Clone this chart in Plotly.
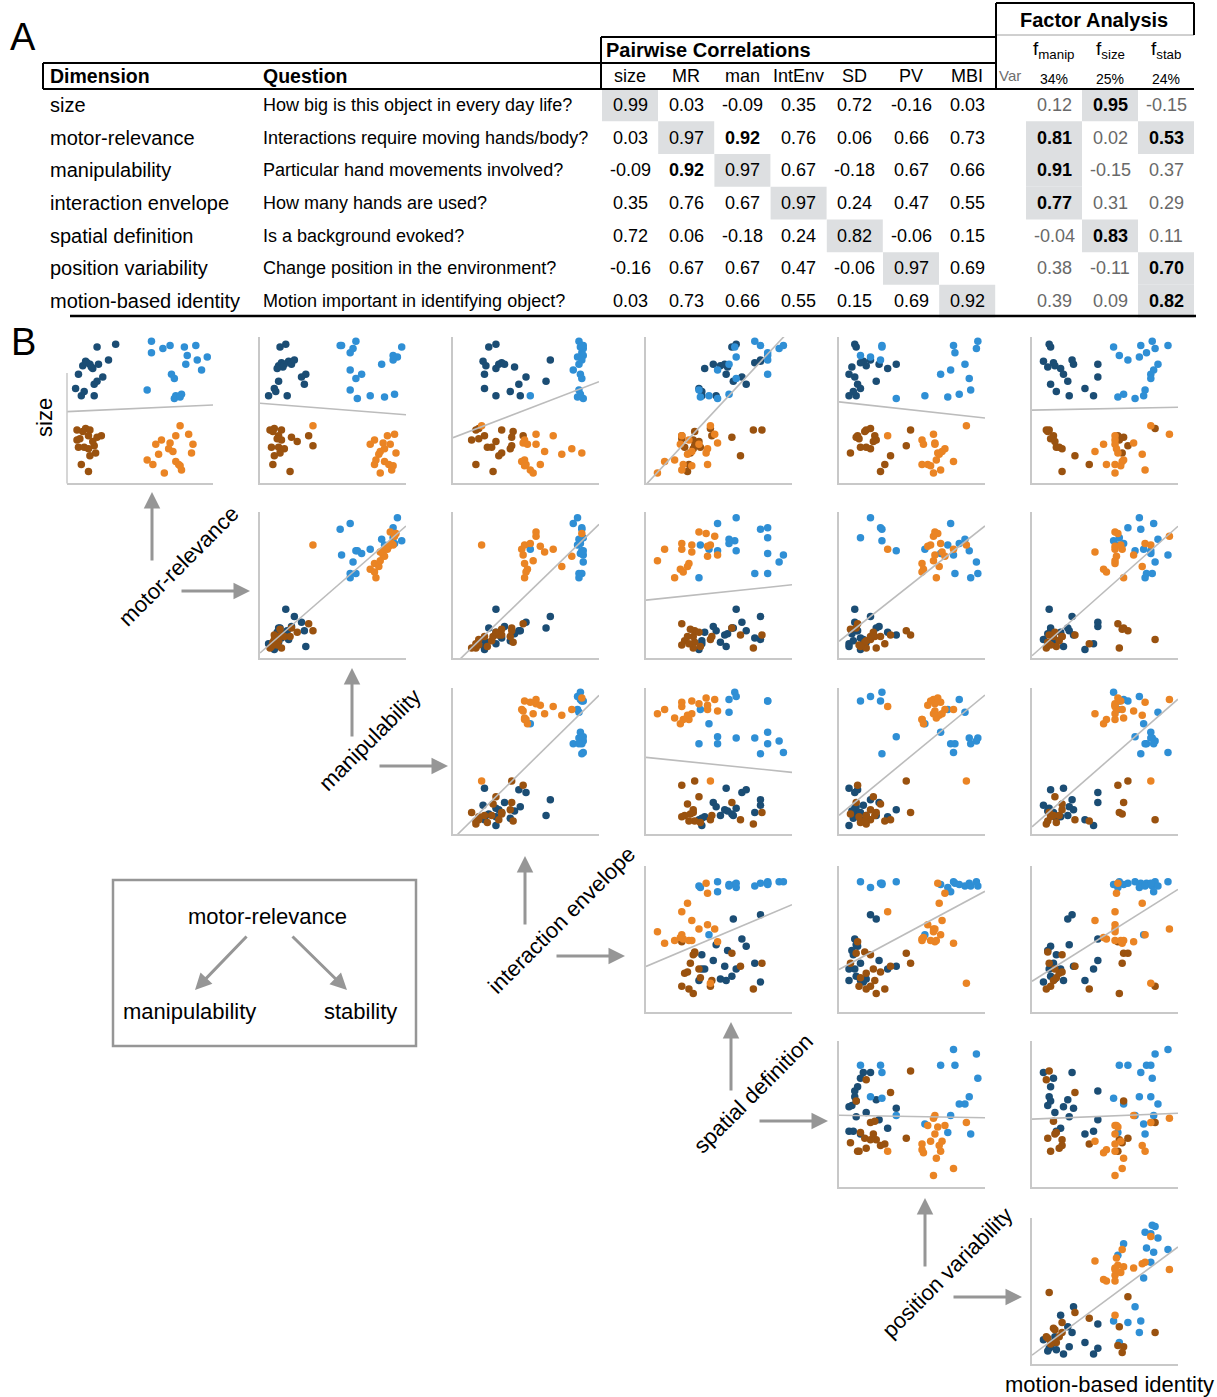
import numpy as np
import plotly.graph_objects as go

W, H = 1217, 1397

# ---------------- Panel A data ----------------
dim_short = ["size", "MR", "man", "IntEnv", "SD", "PV", "MBI"]
dim_names = ["size", "motor-relevance", "manipulability", "interaction envelope",
             "spatial definition", "position variability", "motion-based identity"]
questions = ["How big is this object in every day life?",
             "Interactions require moving hands/body?",
             "Particular hand movements involved?",
             "How many hands are used?",
             "Is a background evoked?",
             "Change position in the environment?",
             "Motion important in identifying object?"]
corr_size = [0.99, 0.03, -0.09, 0.35, 0.72, -0.16, 0.03]
corr_mr = [0.03, 0.97, 0.92, 0.76, 0.06, 0.66, 0.73]
corr_man = [-0.09, 0.92, 0.97, 0.67, -0.18, 0.67, 0.66]
corr_ie = [0.35, 0.76, 0.67, 0.97, 0.24, 0.47, 0.55]
corr_sd = [0.72, 0.06, -0.18, 0.24, 0.82, -0.06, 0.15]
corr_pv = [-0.16, 0.67, 0.67, 0.47, -0.06, 0.97, 0.69]
corr_mbi = [0.03, 0.73, 0.66, 0.55, 0.15, 0.69, 0.92]
f_manip = [0.12, 0.81, 0.91, 0.77, -0.04, 0.38, 0.39]
f_size = [0.95, 0.02, -0.15, 0.31, 0.83, -0.11, 0.09]
f_stab = [-0.15, 0.53, 0.37, 0.29, 0.11, 0.70, 0.82]
factor_labels = ["manip", "size", "stab"]
factor_var = ["34%", "25%", "24%"]

# ---------------- Panel B data (normalised ratings) ----------------
# dark blue: big objects, low motor-relevance
size_db = [0.93, 0.95, 0.83, 0.80, 0.82, 0.81, 0.78, 0.81, 0.84, 0.74, 0.72, 0.69, 0.67, 0.64, 0.59, 0.59, 0.79, 0.62]
mr_db = [0.19, 0.32, 0.11, 0.09, 0.12, 0.14, 0.16, 0.20, 0.27, 0.06, 0.23, 0.19, 0.17, 0.04, 0.08, 0.17, 0.15, 0.10]
man_db = [0.12, 0.16, 0.18, 0.11, 0.13, 0.15, 0.10, 0.20, 0.22, 0.30, 0.27, 0.11, 0.29, 0.08, 0.04, 0.17, 0.14, 0.09]
ie_db = [0.23, 0.28, 0.19, 0.21, 0.32, 0.30, 0.28, 0.34, 0.66, 0.20, 0.49, 0.63, 0.44, 0.20, 0.28, 0.45, 0.41, 0.38]
sd_db = [0.58, 0.61, 0.78, 0.50, 0.74, 0.53, 0.39, 0.45, 0.78, 0.54, 0.65, 0.59, 0.68, 0.35, 0.37, 0.47, 0.55, 0.37]
pv_db = [0.10, 0.09, 0.15, 0.17, 0.13, 0.38, 0.32, 0.26, 0.20, 0.05, 0.09, 0.24, 0.11, 0.13, 0.05, 0.10, 0.07, 0.08]
mbi_db = [0.11, 0.10, 0.06, 0.14, 0.13, 0.27, 0.18, 0.44, 0.26, 0.20, 0.44, 0.23, 0.11, 0.35, 0.41, 0.24, 0.09, 0.15]
# light blue: big objects, high motor-relevance
size_lb = [0.97, 0.89, 0.92, 0.94, 0.93, 0.94, 0.87, 0.86, 0.84, 0.81, 0.77, 0.74, 0.71, 0.63, 0.59, 0.57, 0.58, 0.60]
mr_lb = [0.57, 0.57, 0.65, 0.70, 0.80, 0.88, 0.82, 0.96, 0.89, 0.81, 0.92, 0.71, 0.73, 0.54, 0.74, 0.73, 0.77, 0.78]
man_lb = [0.65, 0.61, 0.63, 0.55, 0.97, 0.54, 0.91, 0.94, 0.91, 0.83, 0.61, 0.69, 0.65, 0.61, 0.75, 0.66, 0.85, 0.92]
ie_lb = [0.86, 0.88, 0.89, 0.89, 0.87, 0.88, 0.89, 0.85, 0.88, 0.86, 0.82, 0.87, 0.88, 0.86, 0.52, 0.89, 0.85, 0.87]
sd_lb = [0.74, 0.83, 0.91, 0.94, 0.60, 0.78, 0.83, 0.61, 0.83, 0.56, 0.48, 0.83, 0.61, 0.35, 0.42, 0.48, 0.36, 0.56]
pv_lb = [0.95, 0.79, 0.94, 0.78, 0.28, 0.28, 0.13, 0.20, 0.27, 0.86, 0.76, 0.69, 0.89, 0.90, 0.58, 0.38, 0.74, 0.82]
mbi_lb = [0.82, 0.78, 0.84, 0.93, 0.55, 0.74, 0.59, 0.73, 0.65, 0.86, 0.83, 0.81, 0.81, 0.77, 0.76, 0.70, 0.58, 0.62]
# brown: small objects, low motor-relevance
size_br = [0.35, 0.36, 0.35, 0.34, 0.31, 0.28, 0.31, 0.30, 0.23, 0.23, 0.22, 0.24, 0.19, 0.17, 0.11, 0.06, 0.29, 0.27]
mr_br = [0.05, 0.11, 0.14, 0.09, 0.13, 0.05, 0.22, 0.19, 0.06, 0.10, 0.13, 0.17, 0.18, 0.14, 0.08, 0.13, 0.07, 0.16]
man_br = [0.05, 0.08, 0.13, 0.07, 0.11, 0.13, 0.32, 0.20, 0.06, 0.11, 0.15, 0.35, 0.12, 0.08, 0.07, 0.19, 0.10, 0.24]
ie_br = [0.14, 0.16, 0.32, 0.40, 0.20, 0.11, 0.47, 0.39, 0.22, 0.25, 0.38, 0.39, 0.32, 0.30, 0.14, 0.26, 0.16, 0.28]
sd_br = [0.73, 0.43, 0.79, 0.32, 0.44, 0.31, 0.23, 0.58, 0.36, 0.25, 0.31, 0.32, 0.29, 0.64, 0.28, 0.27, 0.23, 0.35]
pv_br = [0.17, 0.20, 0.48, 0.16, 0.23, 0.24, 0.11, 0.10, 0.13, 0.17, 0.20, 0.45, 0.06, 0.34, 0.30, 0.27, 0.12, 0.22]
mbi_br = [0.08, 0.84, 0.10, 0.09, 0.13, 0.59, 0.58, 0.62, 0.15, 0.17, 0.19, 0.65, 0.61, 0.28, 0.38, 0.19, 0.11, 0.14]
# orange: small objects, high motor-relevance
size_or = [0.38, 0.32, 0.31, 0.28, 0.26, 0.25, 0.25, 0.19, 0.22, 0.18, 0.14, 0.11, 0.13, 0.11, 0.10, 0.07, 0.05, 0.20]
mr_or = [0.77, 0.83, 0.74, 0.64, 0.70, 0.86, 0.60, 0.85, 0.69, 0.62, 0.54, 0.58, 0.74, 0.76, 0.77, 0.78, 0.66, 0.72]
man_or = [0.35, 0.92, 0.87, 0.78, 0.84, 0.89, 0.75, 0.93, 0.85, 0.81, 0.79, 0.78, 0.85, 0.88, 0.91, 0.90, 0.82, 0.82]
ie_or = [0.18, 0.56, 0.68, 0.48, 0.47, 0.56, 0.50, 0.88, 0.81, 0.74, 0.48, 0.49, 0.46, 0.59, 0.48, 0.52, 0.54, 0.62]
sd_or = [0.43, 0.46, 0.23, 0.28, 0.48, 0.35, 0.22, 0.40, 0.41, 0.27, 0.18, 0.24, 0.11, 0.41, 0.30, 0.23, 0.06, 0.30]
pv_or = [0.87, 0.64, 0.32, 0.56, 0.65, 0.65, 0.57, 0.67, 0.72, 0.68, 0.66, 0.56, 0.78, 0.60, 0.62, 0.69, 0.64, 0.70]
mbi_or = [0.81, 0.94, 0.56, 0.56, 0.69, 0.56, 0.48, 0.58, 0.57, 0.75, 0.62, 0.50, 0.61, 0.56, 0.60, 0.77, 0.56, 0.42]

axis_labels = ["size", "motor-relevance", "manipulability", "interaction envelope",
               "spatial definition", "position variability", "motion-based identity"]

# ---------------- styling ----------------
FONT = "Liberation Sans, Arial, Helvetica, sans-serif"
C_DB, C_LB, C_BR, C_OR = "#1b4d74", "#2f8fd5", "#9a520f", "#ea8424"
AXC = "rgb(200,200,200)"
REGC = "rgb(188,188,188)"
ARC = "rgb(150,150,150)"
CELL = "rgb(221,223,225)"


def px(x):
    return x / W


def py(y):
    return 1 - y / H


fig = go.Figure()
ann = []
shapes = []


def text(x, y, s, size, color="black", xanchor="center", angle=0):
    ann.append(dict(x=px(x), y=py(y), xref="paper", yref="paper", text=s, showarrow=False,
                    textangle=angle, font=dict(size=size, family=FONT, color=color),
                    xanchor=xanchor, yanchor="middle"))


def arrow(x, y, ax, ay):
    ann.append(dict(x=px(x), y=py(y), xref="paper", yref="paper", text="", showarrow=True,
                    ax=ax, ay=ay, arrowhead=2, arrowsize=1.1, arrowwidth=3, arrowcolor=ARC))


def hline(x0, x1, y, w=1.5, c="black"):
    shapes.append(dict(type="line", xref="paper", yref="paper", x0=px(x0), x1=px(x1), y0=py(y), y1=py(y),
                       line=dict(color=c, width=w)))


def vline(x, y0, y1, w=1.5, c="black"):
    shapes.append(dict(type="line", xref="paper", yref="paper", x0=px(x), x1=px(x), y0=py(y0), y1=py(y1),
                       line=dict(color=c, width=w)))


# ================= Panel A: table =================
corr_rows = [corr_size, corr_mr, corr_man, corr_ie, corr_sd, corr_pv, corr_mbi]
fac_cols = [f_manip, f_size, f_stab]
pw_x = [630 + 56.2 * i for i in range(7)]
fa_x = [1054 + 56 * i for i in range(3)]
row_y = [105 + 32.7 * i for i in range(7)]
CW, RH = 56, 32.7

text(23, 37, "A", 38)
text(23, 342, "B", 38)

text(1094, 20, "<b>Factor Analysis</b>", 20)
text(604, 50, "<b>Pairwise Correlations</b>", 20, xanchor="left")
text(48, 76, "<b>Dimension</b>", 19.5, xanchor="left")
text(261, 76, "<b>Question</b>", 19.5, xanchor="left")
for i, s in enumerate(dim_short):
    text(pw_x[i], 76, s, 18)
text(1010, 76, "Var", 15, color="rgb(110,110,110)")
for j in range(3):
    text(fa_x[j], 50, "f<sub>%s</sub>" % factor_labels[j], 19)
    text(fa_x[j], 79, factor_var[j], 14)

for i in range(7):
    text(48, row_y[i], dim_names[i], 20, xanchor="left")
    text(261, row_y[i], questions[i], 18, xanchor="left")
    for j in range(7):
        v = corr_rows[i][j]
        if i == j:
            shapes.append(dict(type="rect", xref="paper", yref="paper",
                               x0=px(pw_x[j] - CW / 2), x1=px(pw_x[j] + CW / 2),
                               y0=py(row_y[i] - RH / 2), y1=py(row_y[i] + RH / 2),
                               fillcolor=CELL, line=dict(width=0), layer="below"))
        txt = "%.2f" % v
        if i != j and abs(v) >= 0.9:
            txt = "<b>%s</b>" % txt
        text(pw_x[j], row_y[i], txt, 18)
    for j in range(3):
        v = fac_cols[j][i]
        strong = v >= 0.5
        if strong:
            shapes.append(dict(type="rect", xref="paper", yref="paper",
                               x0=px(fa_x[j] - CW / 2), x1=px(fa_x[j] + CW / 2),
                               y0=py(row_y[i] - RH / 2), y1=py(row_y[i] + RH / 2),
                               fillcolor=CELL, line=dict(width=0), layer="below"))
        txt = "%.2f" % v
        text(fa_x[j], row_y[i], ("<b>%s</b>" % txt) if strong else txt, 18,
             color="black" if strong else "rgb(105,105,105)")

hline(996, 1194, 3, 2)
hline(996, 1194, 35, 1, "rgb(160,160,160)")
vline(1194, 3, 35, 2)
vline(996, 3, 89, 2)
hline(601, 996, 37, 2)
vline(601, 37, 89, 2)
hline(43, 996, 63, 2)
vline(43, 63, 89, 2)
hline(43, 1194, 89, 2)
hline(70, 1196, 316, 2.5)

# ================= Panel B: scatter matrix =================
groups = [
    (C_DB, [size_db, mr_db, man_db, ie_db, sd_db, pv_db, mbi_db]),
    (C_LB, [size_lb, mr_lb, man_lb, ie_lb, sd_lb, pv_lb, mbi_lb]),
    (C_BR, [size_br, mr_br, man_br, ie_br, sd_br, pv_br, mbi_br]),
    (C_OR, [size_or, mr_or, man_or, ie_or, sd_or, pv_or, mbi_or]),
]
col_left = [67, 260, 453, 646, 839, 1032]
row_top = [337, 512, 688, 866, 1041, 1218]
SZ = 146

k = 0
for r in range(6):
    for c in range(r, 6):
        k += 1
        xa = "x" if k == 1 else "x%d" % k
        ya = "y" if k == 1 else "y%d" % k
        xd, yd = c + 1, r
        allx, ally = [], []
        for color, vals in groups:
            fig.add_trace(go.Scatter(x=vals[xd], y=vals[yd], mode="markers",
                                     marker=dict(color=color, size=7.5, line=dict(width=0)),
                                     xaxis=xa, yaxis=ya, showlegend=False, cliponaxis=False,
                                     hoverinfo="skip"))
            allx += vals[xd]
            ally += vals[yd]
        b, a = np.polyfit(allx, ally, 1)
        xs = [-0.02, 1.0]
        fig.add_trace(go.Scatter(x=xs, y=[a + b * x for x in xs], mode="lines",
                                 line=dict(color=REGC, width=1.6), xaxis=xa, yaxis=ya,
                                 showlegend=False, hoverinfo="skip"))
        L, T = col_left[c], row_top[r]
        common = dict(linecolor=AXC, linewidth=1.5, showgrid=False, zeroline=False,
                      showticklabels=False, ticks="", fixedrange=True, range=[-0.02, 1.0])
        fig.layout["xaxis" if k == 1 else "xaxis%d" % k] = dict(domain=[px(L), px(L + SZ)], anchor=ya,
                                                               showline=True, **common)
        fig.layout["yaxis" if k == 1 else "yaxis%d" % k] = dict(domain=[py(T + SZ), py(T)], anchor=xa,
                                                               showline=(k != 1), **common)
# the first panel's left axis line is shorter in the original figure
vline(67, 373, 483.5, 1.5, AXC)

# axis labels and arrows
text(44, 418, axis_labels[0], 22, angle=-90)
text(1109, 1384, axis_labels[6], 22)
diag_centers = [(178, 566), (369, 740), (561, 920), (753, 1093), (947, 1272)]
up_x = [152, 352, 525, 731, 925]
up_head = [492, 668, 856, 1022, 1198]
right_y = [591, 766, 956, 1121, 1297]
right_head = [250, 448, 625, 828, 1022]
for i, (cx, cy) in enumerate(diag_centers):
    text(cx, cy, axis_labels[i + 1], 22, angle=-45)
    arrow(up_x[i], up_head[i], 0, 70)
    arrow(right_head[i], right_y[i], -70, 0)

# legend box
shapes.append(dict(type="rect", xref="paper", yref="paper", x0=px(113), x1=px(416), y0=py(1046), y1=py(880),
                   line=dict(color=ARC, width=2.5), fillcolor="rgba(0,0,0,0)"))
text(267, 916, "motor-relevance", 22)
text(189, 1011, "manipulability", 22)
text(360, 1011, "stability", 22)
arrow(195, 990, 53, -55)
arrow(347, 990, -56, -55)

fig.update_layout(width=W, height=H, margin=dict(l=0, r=0, t=0, b=0),
                  paper_bgcolor="white", plot_bgcolor="white",
                  annotations=ann, shapes=shapes, font=dict(family=FONT))

fig.write_html("out.html", config={"displayModeBar": False},
               post_script="document.body.style.margin='0';")
